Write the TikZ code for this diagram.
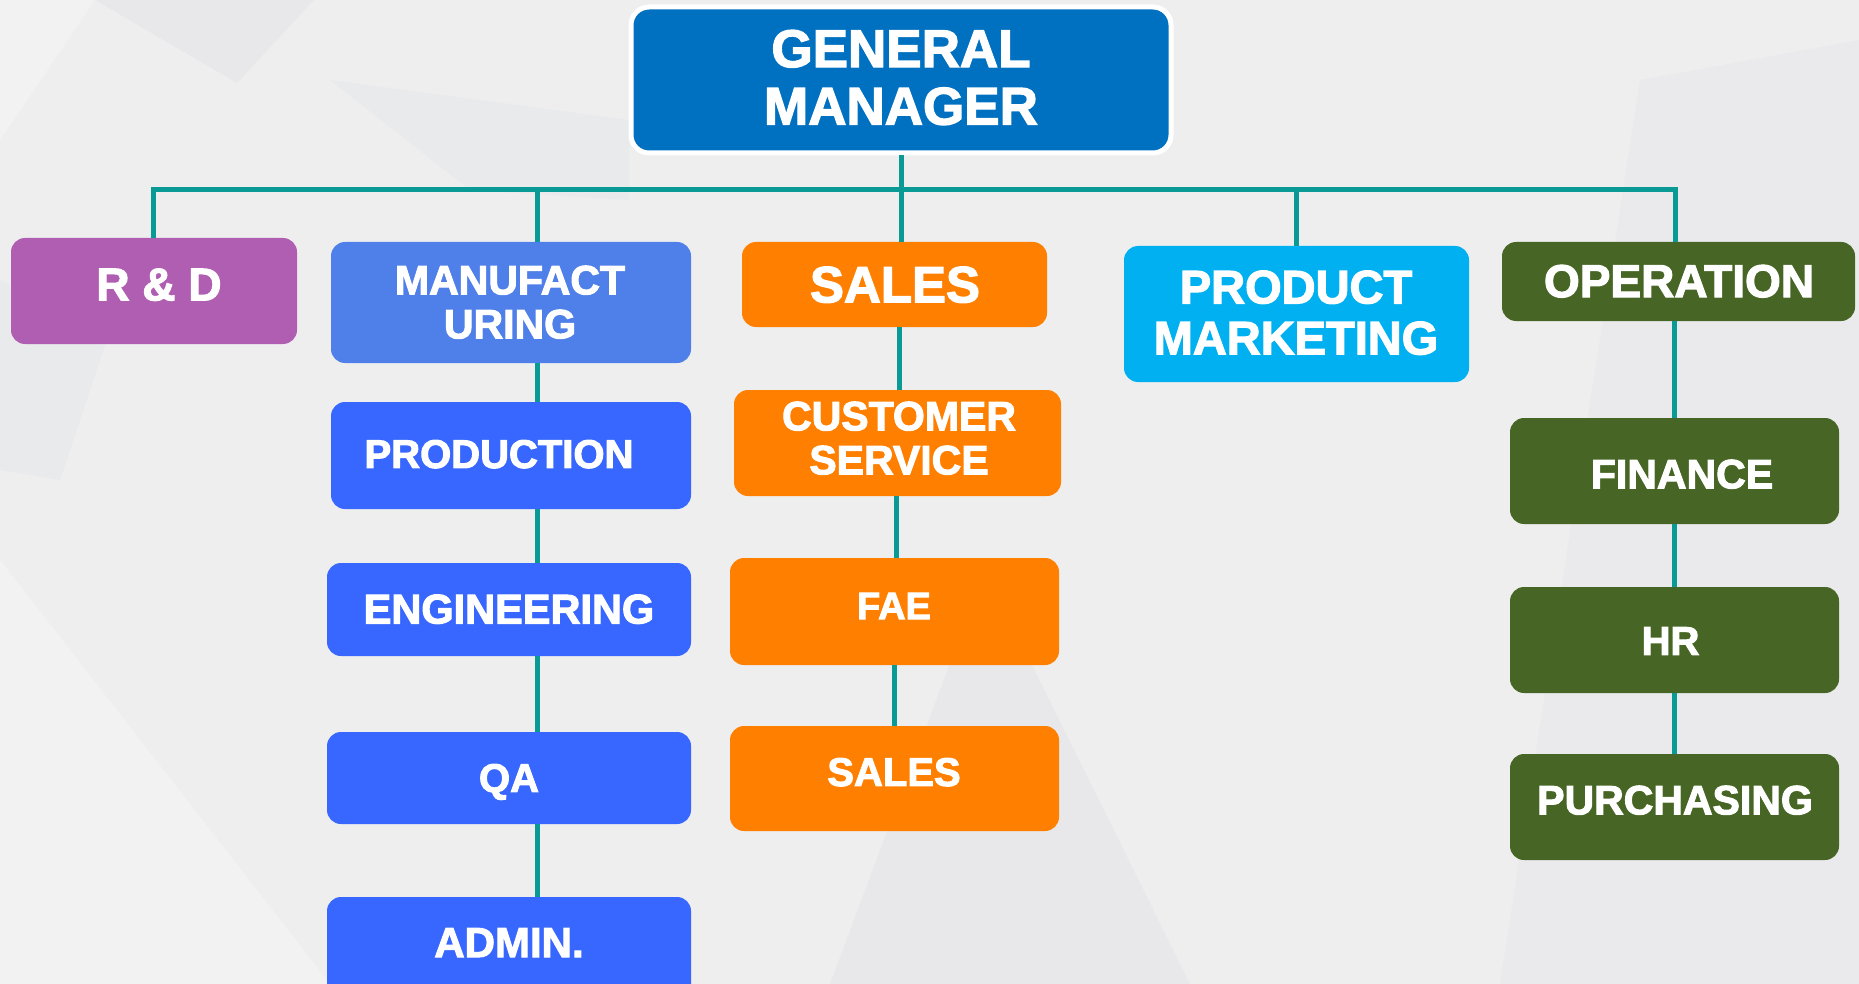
\documentclass[tikz,border=0pt]{standalone}
\usepackage{fontspec}
\setmainfont{Liberation Sans}[BoldFeatures={FakeBold=2.5}]
\usetikzlibrary{calc}
\definecolor{bgc}{HTML}{EEEEEF}
\definecolor{bgd}{HTML}{E3E4E8}
\definecolor{bgl}{HTML}{F5F5F5}
\definecolor{gmc}{HTML}{0070C0}
\definecolor{rdc}{HTML}{B05EB1}
\definecolor{mfc}{HTML}{4F7FE9}
\definecolor{bluec}{HTML}{3767FF}
\definecolor{salesc}{HTML}{FF8000}
\definecolor{pmc}{HTML}{00B0F0}
\definecolor{opc}{HTML}{476625}
\definecolor{linec}{HTML}{0A9A96}
\newcommand\fsz[2]{\fontsize{#1pt}{#2pt}\selectfont}
\begin{document}
\begin{tikzpicture}[x=1pt,y=-1pt,
  box/.style={rounded corners=14pt, inner sep=0pt},
  txt/.style={text=white, font=\bfseries, inner sep=0pt, align=center, text depth=0pt},
  link/.style={draw=linec, line width=5pt, line join=miter}]
\useasboundingbox (0,0) rectangle (1859,984);
\clip (0,0) rectangle (1859,984);
% background
\fill[bgc] (0,0) rectangle (1859,984);
\fill[bgd, opacity=0.5] (95,0) -- (314,0) -- (237,83) -- cycle;
\fill[bgd, opacity=0.4] (330,80) -- (629,120) -- (629,200) -- (470,190) -- cycle;
\fill[bgl, opacity=0.7] (0,560) -- (330,984) -- (0,984) -- cycle;
\fill[bgd, opacity=0.5] (985,570) -- (1190,984) -- (830,984) -- cycle;
\fill[bgd, opacity=0.35] (1500,984) -- (1640,80) -- (1859,40) -- (1859,984) -- cycle;
\fill[bgd, opacity=0.4] (0,280) -- (110,330) -- (60,480) -- (0,470) -- cycle;
\fill[bgl, opacity=0.7] (0,0) -- (95,0) -- (0,140) -- cycle;

% boxes
\node[box, fill=gmc, draw=white, line width=5pt, rounded corners=18pt, minimum width=540pt, minimum height=146pt] (gm) at (901,80) {};
\node[box, fill=rdc, minimum width=286pt, minimum height=106pt] (rd) at (154,291) {};
\node[box, fill=mfc, minimum width=360pt, minimum height=121pt] (manuf) at (511,302.5) {};
\node[box, fill=bluec, minimum width=360pt, minimum height=107pt] (prod) at (511,455.5) {};
\node[box, fill=bluec, minimum width=364pt, minimum height=93pt] (eng) at (509,609.5) {};
\node[box, fill=bluec, minimum width=364pt, minimum height=92pt] (qa) at (509,778) {};
\node[box, fill=bluec, minimum width=364pt, minimum height=103pt] (admin) at (509,948.5) {};
\node[box, fill=salesc, minimum width=305pt, minimum height=85pt] (sales) at (894.5,284.5) {};
\node[box, fill=salesc, minimum width=327pt, minimum height=106pt] (cs) at (897.5,443) {};
\node[box, fill=salesc, minimum width=329pt, minimum height=107pt] (fae) at (894.5,611.5) {};
\node[box, fill=salesc, minimum width=329pt, minimum height=105pt] (sales2) at (894.5,778.5) {};
\node[box, fill=pmc, minimum width=345pt, minimum height=136pt] (pm) at (1296.5,314) {};
\node[box, fill=opc, minimum width=353pt, minimum height=79pt] (op) at (1678.5,281.5) {};
\node[box, fill=opc, minimum width=329pt, minimum height=106pt] (fin) at (1674.5,471) {};
\node[box, fill=opc, minimum width=329pt, minimum height=106pt] (hr) at (1674.5,640) {};
\node[box, fill=opc, minimum width=329pt, minimum height=106pt] (pur) at (1674.5,807) {};

% texts
\node[txt, font=\bfseries\fsz{53}{57.5}] (gm-t) at (901,77.3) {GENERAL\\MANAGER};
\node[txt, font=\bfseries\fsz{46}{50}] (rd-t) at (159,284.5) {R \& D};
\node[txt, font=\bfseries\fsz{41}{44}] (manuf-t) at (510,302) {MANUFACT\\URING};
\node[txt, font=\bfseries\fsz{40}{44}] (prod-t) at (499,454) {PRODUCTION};
\node[txt, font=\bfseries\fsz{41.5}{44}] (eng-t) at (509,609) {ENGINEERING};
\node[txt, font=\bfseries\fsz{40}{44}] (qa-t) at (509,778) {QA};
\node[txt, font=\bfseries\fsz{42}{44}] (admin-t) at (509,942.6) {ADMIN.};
\node[txt, font=\bfseries\fsz{51}{55}] (sales-t) at (895,284.5) {SALES};
\node[txt, font=\bfseries\fsz{41}{44}] (cs-t) at (899,438) {CUSTOMER\\SERVICE};
\node[txt, font=\bfseries\fsz{38}{42}] (fae-t) at (894,606) {FAE};
\node[txt, font=\bfseries\fsz{40}{44}] (sales2-t) at (894,772) {SALES};
\node[txt, font=\bfseries\fsz{47}{51}] (pm-t) at (1296,312.5) {PRODUCT\\MARKETING};
\node[txt, font=\bfseries\fsz{46}{50}] (op-t) at (1679,281) {OPERATION};
\node[txt, font=\bfseries\fsz{41}{44}] (fin-t) at (1682,474) {FINANCE};
\node[txt, font=\bfseries\fsz{40}{44}] (hr-t) at (1670.5,641) {HR};
\node[txt, font=\bfseries\fsz{41}{44}] (pur-t) at (1675,800) {PURCHASING};

% connectors
\coordinate (busL) at (153,190);
\coordinate (busR) at (1675,190);
\coordinate (mx) at (537,190);
\coordinate (sx1) at (899,0);
\coordinate (sx2) at (896.5,0);
\coordinate (sx3) at (894,0);
\coordinate (ox) at (1674,0);
\draw[link] (rd.north -| busL) -- (busL) -- (busR) -- (busR |- op.north);
\draw[link] (gm.south) -- (gm.south |- sales.north);
\draw[link] (mx) -- (mx |- manuf.north);
\draw[link] (pm.north) -- (pm.north |- busL);
\draw[link] (manuf.south -| mx) -- (prod.north -| mx);
\draw[link] (prod.south -| mx) -- (eng.north -| mx);
\draw[link] (eng.south -| mx) -- (qa.north -| mx);
\draw[link] (qa.south -| mx) -- (admin.north -| mx);
\draw[link] (sales.south -| sx1) -- (cs.north -| sx1);
\draw[link] (cs.south -| sx2) -- (fae.north -| sx2);
\draw[link] (fae.south -| sx3) -- (sales2.north -| sx3);
\draw[link] (op.south -| ox) -- (fin.north -| ox);
\draw[link] (fin.south -| ox) -- (hr.north -| ox);
\draw[link] (hr.south -| ox) -- (pur.north -| ox);
\end{tikzpicture}
\end{document}
